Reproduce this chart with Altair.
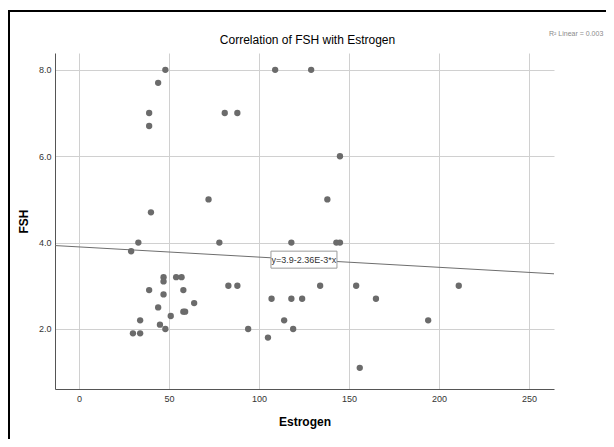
import altair as alt
import pandas as pd

# ---- data ----
estrogen = [48, 44, 109, 129, 39, 39, 81, 88, 145, 72, 138, 40, 33, 29, 78, 118, 143, 145,
            47, 47, 54, 57, 39, 47, 58, 83, 88, 134, 154, 211, 107, 118, 124, 165, 64, 44,
            58, 59, 51, 34, 114, 194, 45, 48, 94, 119, 30, 34, 105, 156]
fsh = [8.0, 7.7, 8.0, 8.0, 7.0, 6.7, 7.0, 7.0, 6.0, 5.0, 5.0, 4.7, 4.0, 3.8, 4.0, 4.0, 4.0, 4.0,
       3.2, 3.1, 3.2, 3.2, 2.9, 2.8, 2.9, 3.0, 3.0, 3.0, 3.0, 3.0, 2.7, 2.7, 2.7, 2.7, 2.6, 2.5,
       2.4, 2.4, 2.3, 2.2, 2.2, 2.2, 2.1, 2.0, 2.0, 2.0, 1.9, 1.9, 1.8, 1.1]
x_ticks = [0, 50, 100, 150, 200, 250]
y_ticks = [2.0, 4.0, 6.0, 8.0]
x_domain = [-13.3, 263.9]
y_domain = [0.61, 8.39]
intercept = 3.9
slope = -2.36e-3
eq_label = "y=3.9-2.36E-3*x"
eq_label_x = 125
r2_label = "R² Linear = 0.003"
title_text = "Correlation of FSH with Estrogen"

FONT = "Liberation Sans"
W, H = 499, 336

pts = pd.DataFrame({"Estrogen": estrogen, "FSH": fsh})
line_df = pd.DataFrame({"Estrogen": x_domain,
                        "FSH": [intercept + slope * v for v in x_domain]})
lab_df = pd.DataFrame({"Estrogen": [eq_label_x],
                       "FSH": [intercept + slope * eq_label_x],
                       "label": [eq_label]})
one = pd.DataFrame({"a": [0]})

xs = alt.Scale(domain=x_domain, nice=False, zero=False)
ys = alt.Scale(domain=y_domain, nice=False, zero=False)

xax = alt.Axis(values=x_ticks, title="Estrogen", format="d", ticks=False,
               labelPadding=5, titlePadding=13)
yax = alt.Axis(values=y_ticks, title="FSH", format=".1f", ticks=False,
               labelPadding=4, titlePadding=8)

X = alt.X("Estrogen:Q", scale=xs, axis=xax)
Y = alt.Y("FSH:Q", scale=ys, axis=yax)

frame_top = alt.Chart(one).mark_rule(color="black", strokeWidth=2).encode(
    x=alt.value(-47), x2=alt.value(W + 70), y=alt.value(-42))
frame_left = alt.Chart(one).mark_rule(color="black", strokeWidth=2).encode(
    x=alt.value(-46), y=alt.value(-43), y2=alt.value(H + 70))

title = alt.Chart(one).mark_text(font=FONT, fontSize=12, color="black",
                                 baseline="middle", align="center").encode(
    x=alt.value(W / 2 + 3), y=alt.value(-13), text=alt.value(title_text))

fit = alt.Chart(line_df).mark_line(color="#6e6e6e", strokeWidth=1).encode(x=X, y=Y)

points = alt.Chart(pts).mark_circle(size=40, color="#6b6b6b", opacity=1).encode(x=X, y=Y)

box = alt.Chart(lab_df).mark_rect(width=66, height=17, fill="white",
                                  stroke="#9a9a9a", strokeWidth=1).encode(x=X, y=Y)
eq_text = alt.Chart(lab_df).mark_text(font=FONT, fontSize=9, color="#333333").encode(
    x=X, y=Y, text="label:N")

r2 = alt.Chart(one).mark_text(font=FONT, fontSize=7, color="#8a8a8a", align="left",
                              baseline="middle").encode(
    x=alt.value(494), y=alt.value(-19), text=alt.value(r2_label))

chart = alt.layer(frame_top, frame_left, title, fit, points, box, eq_text, r2).properties(
    width=W, height=H,
    autosize=alt.AutoSizeParams(type="none"),
    padding={"left": 47, "top": 45, "right": 52, "bottom": 50},
).configure_view(stroke=None).configure_axis(
    labelFont=FONT, labelFontSize=9, labelColor="#333333",
    titleFont=FONT, titleFontSize=12, titleFontWeight="bold", titleColor="black",
    gridColor="#d0d0d0", gridWidth=1, domainColor="#555555", domainWidth=1,
)

chart.save("out.html", embed_options={"renderer": "svg", "actions": False})
